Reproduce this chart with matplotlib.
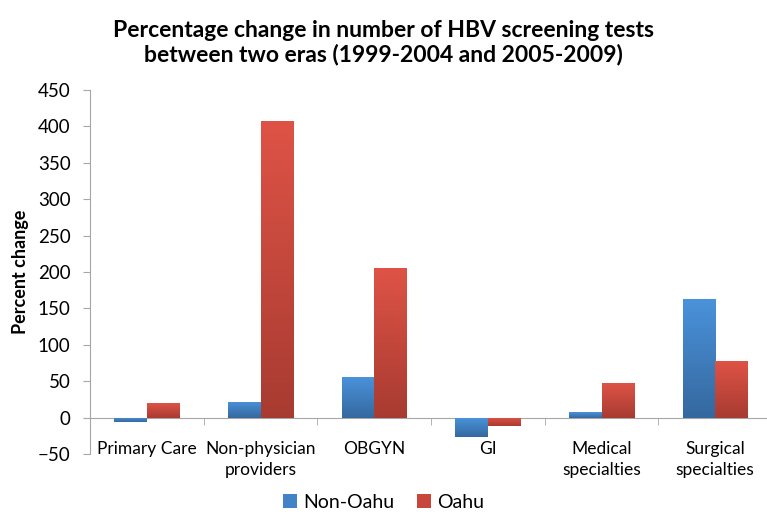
import numpy as np
import matplotlib.pyplot as plt
from matplotlib.colors import LinearSegmentedColormap

plt.rcParams['font.family'] = ['Lato', 'DejaVu Sans']

# data
categories = ['Primary Care', 'Non-physician\nproviders', 'OBGYN', 'GI',
              'Medical\nspecialties', 'Surgical\nspecialties']
non_oahu = [-6, 22, 56, -26, 8, 163]
oahu = [20, 407, 205, -12, 47, 78]
series_names = ['Non-Oahu', 'Oahu']

fig = plt.figure(figsize=(7.67, 5.14), dpi=100)
ax = fig.add_axes([90 / 767, 1 - 454 / 514, 682 / 767, 364 / 514])

x = np.arange(len(categories))
w = 0.285

blue_cmap = LinearSegmentedColormap.from_list('b', ['#35689f', '#4a92da'])
red_cmap = LinearSegmentedColormap.from_list('r', ['#a83b31', '#de5346'])


def gradient_bars(xpos, vals, cmap, solid, label):
    bars = ax.bar(xpos, vals, w, color=solid, label=label, zorder=2)
    grad = np.linspace(0, 1, 100).reshape(-1, 1)
    for b in bars:
        x0, y0 = b.get_x(), b.get_y()
        bw, bh = b.get_width(), b.get_height()
        lo, hi = min(y0, y0 + bh), max(y0, y0 + bh)
        im = ax.imshow(grad, cmap=cmap, aspect='auto', origin='lower',
                       extent=[x0, x0 + bw, lo, hi], zorder=3)
        im.set_clip_path(b)
    return bars


gradient_bars(x - w / 2, non_oahu, blue_cmap, '#4283c8', series_names[0])
gradient_bars(x + w / 2, oahu, red_cmap, '#c9463b', series_names[1])

ax.set_xlim(-0.5, len(categories) - 0.5)
ax.set_ylim(-50, 450)
ax.set_yticks(range(-50, 451, 50))

for s in ['top', 'right']:
    ax.spines[s].set_visible(False)
ax.spines['left'].set_color('#a6a6a6')
ax.spines['bottom'].set_color('#a6a6a6')
ax.spines['bottom'].set_position(('data', 0))

ax.tick_params(axis='y', colors='#a6a6a6', labelcolor='black', labelsize=13.5,
               length=5, pad=9)
ax.set_xticks(x)
ax.set_xticklabels(categories, fontsize=12.5, linespacing=1.4)
ax.tick_params(axis='x', which='major', length=0, pad=17)
ax.set_xticks(np.arange(0.5, len(categories) - 0.5), minor=True)
ax.tick_params(axis='x', which='minor', length=5, colors='#a6a6a6')

ax.set_ylabel('Percent change', fontsize=13, fontweight='bold', labelpad=6)

fig.suptitle('Percentage change in number of HBV screening tests\nbetween two eras (1999-2004 and 2005-2009)',
             x=0.5, y=0.962, fontsize=16.5, fontweight='bold', linespacing=1.2)

handles, labels = ax.get_legend_handles_labels()
fig.legend(handles, labels, loc='lower center', bbox_to_anchor=(0.5, -0.028),
           ncol=2, frameon=False, fontsize=14, handlelength=0.7,
           handleheight=0.7, handletextpad=0.3, columnspacing=1.2)

fig.savefig('out.png', dpi=100)
